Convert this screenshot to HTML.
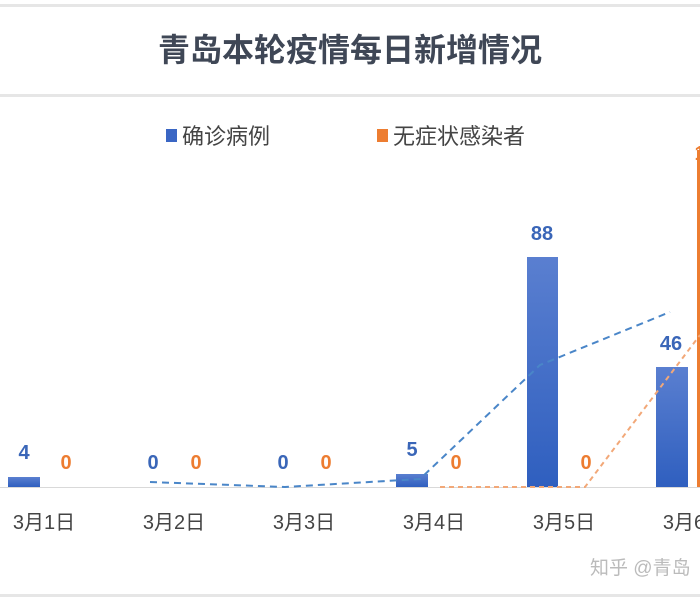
<!DOCTYPE html>
<html><head><meta charset="utf-8"><style>
body{margin:0;background:#fff;width:700px;height:600px;overflow:hidden;font-family:"Liberation Sans","Noto Sans CJK SC",sans-serif}
</style></head><body>
<svg width="700" height="600" xmlns="http://www.w3.org/2000/svg" font-family="Liberation Sans, Noto Sans CJK SC, sans-serif">
<defs><linearGradient id="b" x1="0" y1="0" x2="0" y2="1"><stop offset="0" stop-color="#5a7fd0"/><stop offset="1" stop-color="#2f5fbf"/></linearGradient></defs>
<rect x="0" y="4" width="700" height="3" fill="#e6e6e6"/>
<rect x="0" y="94" width="700" height="3" fill="#e6e6e6"/>
<rect x="0" y="594" width="700" height="3" fill="#e6e6e6"/>
<text x="350" y="61" text-anchor="middle" font-size="32" font-weight="bold" fill="#3f4756">青岛本轮疫情每日新增情况</text>
<rect x="166" y="129" width="11" height="13" fill="#3a66c4"/>
<text x="182" y="144" font-size="22" fill="#444">确诊病例</text>
<rect x="377" y="129" width="11" height="13" fill="#ed7d31"/>
<text x="393" y="144" font-size="22" fill="#444">无症状感染者</text>
<line x1="0" y1="487.5" x2="700" y2="487.5" stroke="#d9d9d9" stroke-width="1"/>
<rect x="8" y="477" width="32" height="10" fill="url(#b)"/>
<rect x="396" y="474" width="32" height="13" fill="url(#b)"/>
<rect x="527" y="257" width="31" height="230" fill="url(#b)"/>
<rect x="656" y="367" width="32" height="120" fill="url(#b)"/>
<rect x="697" y="150" width="3" height="337" fill="#ed7d31"/>
<polyline points="150,482 285,487 420,479 540,365 670,312" fill="none" stroke="#4a86c8" stroke-width="2" stroke-dasharray="7,5"/>
<polyline points="440,487 585,487 700,335" fill="none" stroke="#f2a878" stroke-width="2" stroke-dasharray="5,4"/>
<g font-size="20" font-weight="bold" text-anchor="middle" fill="#3a66b8">
<text x="24" y="459">4</text><text x="153" y="469">0</text><text x="283" y="469">0</text><text x="412" y="456">5</text><text x="542" y="240">88</text><text x="671" y="350">46</text></g>
<g font-size="20" font-weight="bold" text-anchor="middle" fill="#ed7d31">
<text x="66" y="469">0</text><text x="196" y="469">0</text><text x="326" y="469">0</text><text x="456" y="469">0</text><text x="586" y="469">0</text><text x="700" y="160">1</text></g>
<g font-size="20" text-anchor="middle" fill="#444">
<text x="44" y="529">3月1日</text><text x="174" y="529">3月2日</text><text x="304" y="529">3月3日</text><text x="434" y="529">3月4日</text><text x="564" y="529">3月5日</text><text x="694" y="529">3月6日</text></g>
<text x="590" y="574" font-size="19" fill="#bbb">知乎 @青岛</text>
</svg>
</body></html>
